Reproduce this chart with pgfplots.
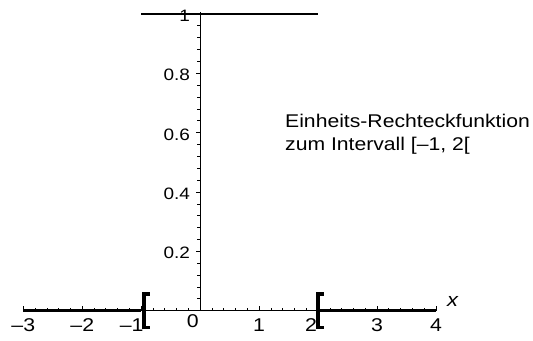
\documentclass[border=0pt]{standalone}
\usepackage{fontspec}
\setmainfont{Liberation Sans}[FakeStretch=1.15]
\usepackage{pgfplots}
\pgfplotsset{compat=1.18}
\pgfdeclareplotmark{lbrA}{%
  \pgfpathmoveto{\pgfpoint{8.5bp}{16.6bp}}%
  \pgfpathlineto{\pgfpoint{3bp}{16.6bp}}%
  \pgfpathlineto{\pgfpoint{3bp}{-16.6bp}}%
  \pgfpathlineto{\pgfpoint{8.5bp}{-16.6bp}}%
  \pgfusepathqstroke}
\pgfdeclareplotmark{lbrB}{%
  \pgfpathmoveto{\pgfpoint{5.5bp}{16.6bp}}%
  \pgfpathlineto{\pgfpoint{0bp}{16.6bp}}%
  \pgfpathlineto{\pgfpoint{0bp}{-16.6bp}}%
  \pgfpathlineto{\pgfpoint{5.5bp}{-16.6bp}}%
  \pgfusepathqstroke}
\begin{document}
\begin{tikzpicture}
\begin{axis}[
  scale only axis, width=412.7bp, height=298.8bp,
  xmin=-3, xmax=4, ymin=0, ymax=1.007,
  axis lines=middle,
  axis line style={-, line width=0.9bp},
  clip=false,
  hide obscured x ticks=false,
  hide obscured y ticks=false,
  xtick={-3,-2,-1,0,1,2,3,4},
  xticklabels={\textendash3,\textendash2,{\kern-19bp\textendash1},{\raisebox{4bp}{0}\kern15bp},1,{\kern-14bp 2},3,4},
  ytick={0,0.2,0.4,0.6,0.8,1},
  yticklabels={,0.2,0.4,0.6,0.8,1},
  minor x tick num=4, minor y tick num=4,
  tick align=inside,
  major tick length=5bp, minor tick length=3bp,
  tick style={line width=0.8bp, black},
  every major y tick/.append style={xshift=-4bp},
  every minor y tick/.append style={xshift=-3bp},
  xticklabel style={anchor=base, inner sep=0pt, yshift=-21bp, font=\fontsize{18.5bp}{20bp}\selectfont},
  yticklabel style={anchor=base east, inner sep=0pt, xshift=-10bp, yshift=-7.4bp, font=\fontsize{16.5bp}{18bp}\selectfont},
  xlabel={\textit{x}},
  xlabel style={at={(axis cs:4,0)}, anchor=base west, inner sep=0pt, xshift=11bp, yshift=4bp, font=\fontsize{19bp}{20bp}\selectfont},
  unbounded coords=jump,
]
\path (axis cs:-3.3955,-0.0988) rectangle (axis cs:5.6446,1.0472);
\addplot[black, line width=2.9bp, line cap=butt] coordinates {(-3,0) (-1,0) (-1,nan) (-1,1) (2,1) (2,nan) (2,0) (4,0)};
\addplot[only marks, mark=lbrA, mark options={black, line width=3.6bp, line join=miter, line cap=butt}] coordinates {(-1,0)};
\addplot[only marks, mark=lbrB, mark options={black, line width=3.6bp, line join=miter, line cap=butt}] coordinates {(2,0)};
\node[anchor=base west, inner sep=0pt, font=\fontsize{18.4bp}{22bp}\selectfont] at (axis cs:1.438,0.616) {Einheits-Rechteckfunktion};
\node[anchor=base west, inner sep=0pt, font=\fontsize{18.4bp}{22bp}\selectfont] at (axis cs:1.438,0.5416) {zum Intervall [\textendash1, 2[};
\end{axis}
\end{tikzpicture}
\end{document}
